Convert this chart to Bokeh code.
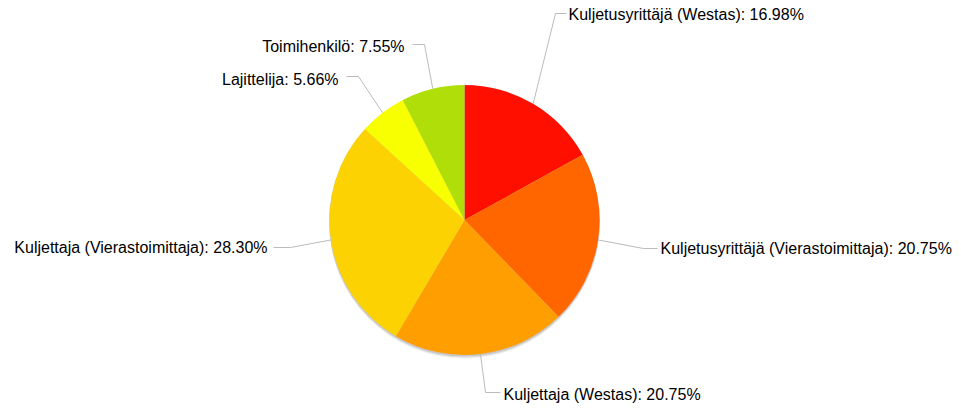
import math
from bokeh.plotting import figure
from bokeh.models import Range1d, ColumnDataSource
from bokeh.core.properties import value
from bokeh.embed import file_html
from bokeh.resources import INLINE

# ---- data ----
categories = [
    "Kuljetusyrittäjä (Westas)",
    "Kuljetusyrittäjä (Vierastoimittaja)",
    "Kuljettaja (Westas)",
    "Kuljettaja (Vierastoimittaja)",
    "Lajittelija",
    "Toimihenkilö",
]
counts = [9, 11, 11, 15, 3, 4]
colors = ["#FF0F00", "#FF6600", "#FF9E01", "#FCD202", "#F8FF01", "#B0DE09"]

# ---- layout (pixel coordinates of the page image) ----
W, H = 961, 412
CX, CY, R = 464, 219.5, 135
# label layout: elbow point, end of horizontal tick, text x, text y, align
label_layout = [
    ((555, 13), (566, 13), 568, 14, "left"),
    ((643, 248), (657, 248), 660, 247.5, "left"),
    ((485, 392), (500, 392), 503, 394, "left"),
    ((290, 247), (273, 247), 267, 247, "right"),
    ((358, 76), (346, 76), 338, 79, "right"),
    ((424, 44), (412, 44), 404, 46, "right"),
]


def X(px):
    return px


def Y(py):
    return H - py


total = sum(counts)
fracs = [c / total for c in counts]
starts, ends, mids = [], [], []
acc = 0.0
for f in fracs:
    starts.append(math.pi / 2 - 2 * math.pi * acc)
    mids.append(math.pi / 2 - 2 * math.pi * (acc + f / 2))
    acc += f
    ends.append(math.pi / 2 - 2 * math.pi * acc)

p = figure(width=W, height=H, x_range=Range1d(0, W), y_range=Range1d(0, H),
           output_backend="svg", toolbar_location=None, min_border=0)
p.axis.visible = False
p.grid.visible = False
p.outline_line_color = None
p.background_fill_color = "white"
p.border_fill_color = "white"

# soft shadow
for off, a in [(3, 0.05), (2, 0.08), (1, 0.1)]:
    p.circle(x=[X(CX)], y=[Y(CY + off)], radius=R + 0.5, fill_color="#000000",
             fill_alpha=a, line_color=None)

src = ColumnDataSource(dict(start=starts, end=ends, color=colors))
p.wedge(x=X(CX), y=Y(CY), radius=R, start_angle="start", end_angle="end",
        direction="clock", fill_color="color", line_color="white",
        line_alpha=0.0, source=src)

labels = [f"{c}: {100 * f:.2f}%" for c, f in zip(categories, fracs)]
for m, lay, txt in zip(mids, label_layout, labels):
    (ex, ey), (hx, hy), tx, ty, al = lay
    sx = CX + R * math.cos(m)
    sy = CY - R * math.sin(m)
    p.line([X(sx), X(ex), X(hx)], [Y(sy), Y(ey), Y(hy)], line_color="#bbbbbb",
           line_width=1)
    p.text(x=[X(tx)], y=[Y(ty)], text=[txt], text_align=al,
           text_baseline="middle", text_font=value("Liberation Sans"),
           text_font_size="16px", text_color="#000000")

open("out.html", "w").write(file_html(p, INLINE))
